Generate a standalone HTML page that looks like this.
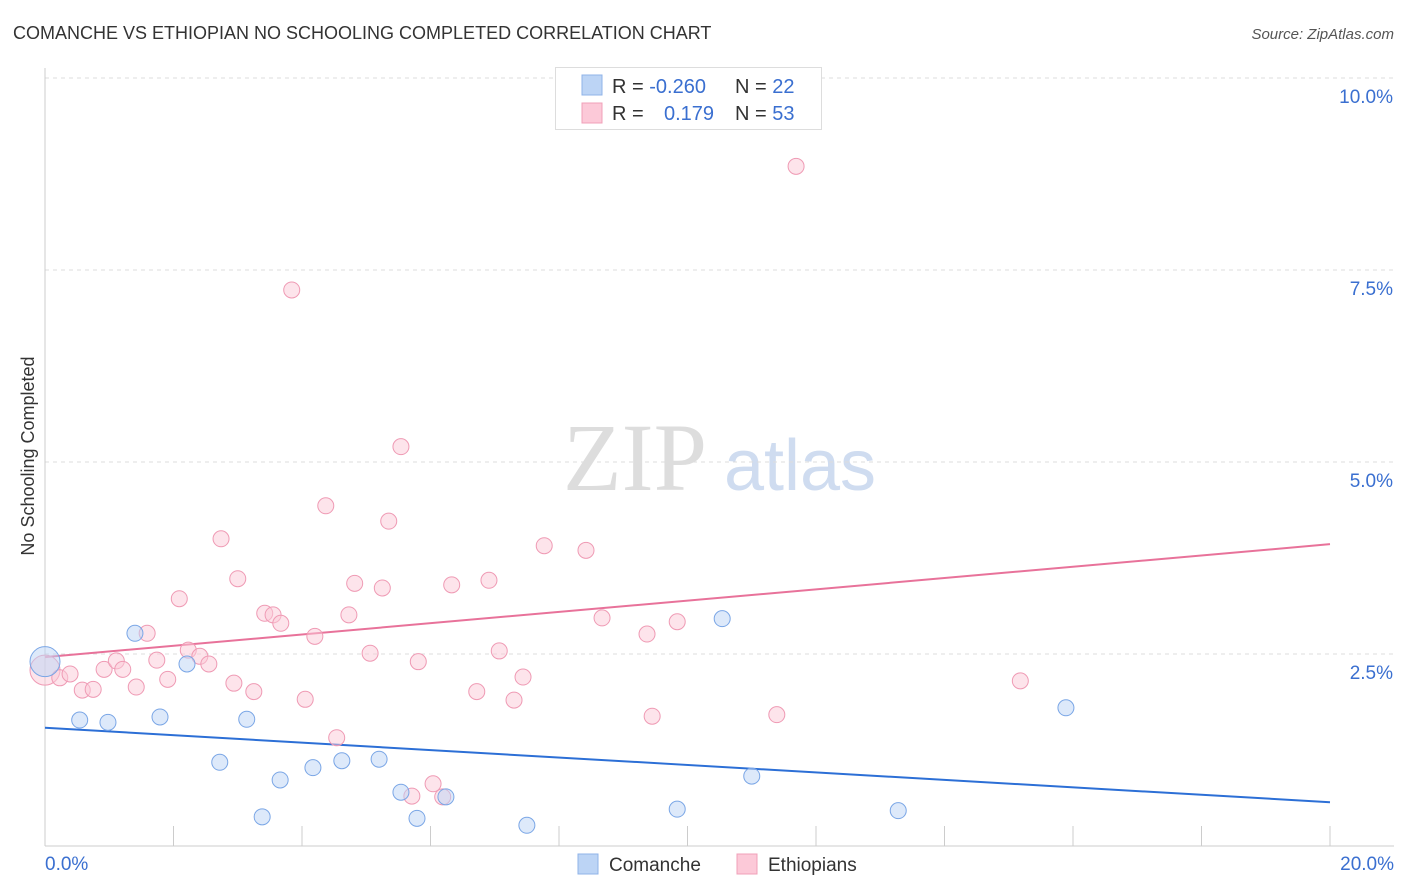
<!DOCTYPE html>
<html><head><meta charset="utf-8"><style>
body{margin:0;background:#fff;font-family:"Liberation Sans",sans-serif;}
svg{display:block}
</style></head><body>
<svg id="chart" width="1406" height="892">
<text x="13" y="39" font-size="18" fill="#333">COMANCHE VS ETHIOPIAN NO SCHOOLING COMPLETED CORRELATION CHART</text>
<text x="1394" y="39" font-size="15" fill="#555" font-style="italic" text-anchor="end">Source: ZipAtlas.com</text>
<text x="635" y="490" font-size="96" fill="#ddd" font-family="Liberation Serif" text-anchor="middle">ZIP</text>
<text x="800" y="490" font-size="72" fill="#cfdcf0" text-anchor="middle">atlas</text>
<text transform="translate(34,456) rotate(-90)" font-size="18" fill="#333" text-anchor="middle">No Schooling Completed</text>
<g id="grid"></g><g id="axes"></g><g id="trends"></g><g id="points"></g>
<g>
<rect x="555.5" y="67.5" width="266" height="62" fill="#fff" stroke="#ddd"/>
<rect x="582" y="75" width="20" height="20" fill="#bcd4f5" stroke="#8fb3e8"/>
<rect x="582" y="103" width="20" height="20" fill="#fcc9d8" stroke="#f0a0b8"/>
<text x="612" y="93" font-size="20" fill="#333">R = <tspan fill="#3a6fd0">-0.260</tspan><tspan x="735">N = </tspan><tspan fill="#3a6fd0">22</tspan></text>
<text x="612" y="120" font-size="20" fill="#333">R = <tspan x="664" fill="#3a6fd0">0.179</tspan><tspan x="735">N = </tspan><tspan fill="#3a6fd0">53</tspan></text>
</g>
<g>
<rect x="578" y="854" width="20" height="20" fill="#bcd4f5" stroke="#8fb3e8"/>
<text x="609" y="871" font-size="19" fill="#333">Comanche</text>
<rect x="737" y="854" width="20" height="20" fill="#fcc9d8" stroke="#f0a0b8"/>
<text x="768" y="871" font-size="19" fill="#333">Ethiopians</text>
</g>
</svg>
<script>
const yTicks=[2.5,5.0,7.5,10.0];
const xTickLabels=["0.0%","20.0%"];
const comancheX=[0.00,0.54,0.98,1.40,1.79,2.21,2.72,3.14,3.38,3.66,4.17,4.62,5.20,5.54,5.79,6.24,7.50,9.84,10.54,11.00,13.28,15.89];
const comancheY=[2.40,1.64,1.61,2.77,1.68,2.37,1.09,1.65,0.38,0.86,1.02,1.11,1.13,0.70,0.36,0.64,0.27,0.48,2.96,0.91,0.46,1.80];
const ethX=[0.00,0.23,0.39,0.58,0.75,0.92,1.11,1.21,1.42,1.59,1.74,1.91,2.09,2.23,2.41,2.55,2.74,2.94,3.00,3.25,3.42,3.55,3.67,3.84,4.05,4.20,4.37,4.54,4.73,4.82,5.06,5.25,5.35,5.54,5.71,5.81,6.04,6.19,6.33,6.72,6.91,7.07,7.30,7.44,7.77,8.42,8.67,9.37,9.45,9.84,11.39,11.69,15.18];
const ethY=[2.29,2.19,2.24,2.03,2.04,2.30,2.41,2.30,2.07,2.77,2.42,2.17,3.22,2.55,2.47,2.37,4.00,2.12,3.48,2.01,3.03,3.01,2.90,7.24,1.91,2.73,4.43,1.41,3.01,3.42,2.51,3.36,4.23,5.20,0.65,2.40,0.81,0.64,3.40,2.01,3.46,2.54,1.90,2.20,3.91,3.85,2.97,2.76,1.69,2.92,1.71,8.85,2.15];
const comancheTrend=[1.54,0.57];
const ethTrend=[2.46,3.93];
const NS="http://www.w3.org/2000/svg";
const xs=v=>45+v/20*1285, ys=v=>846-v*76.8;
function mk(p,t,a){const e=document.createElementNS(NS,t);for(const k in a)e.setAttribute(k,a[k]);document.getElementById(p).appendChild(e);return e;}
yTicks.forEach(t=>{
 const l=mk('grid','line',{x1:45,x2:1394,y1:ys(t),y2:ys(t),stroke:'#ddd','stroke-dasharray':'4,4'});
 
 
 const tx=mk('grid','text',{x:1393,y:ys(t)+25,'font-size':19,fill:'#3a6fd0','text-anchor':'end'});
 tx.textContent=t.toFixed(1)+'%';
 
 
});
mk('axes','line',{x1:45,x2:45,y1:68,y2:846,stroke:'#ccc'});
mk('axes','line',{x1:45,x2:1394,y1:846,y2:846,stroke:'#ccc'});
for(let i=0;i<=10;i++){const x=xs(i*2);mk('axes','line',{x1:x,x2:x,y1:826,y2:846,stroke:'#ccc'});}
xTickLabels.forEach((s,i)=>{const t=mk('axes','text',{x:i?1394:45,y:870,'font-size':19,fill:'#3a6fd0','text-anchor':i?'end':'start'});t.textContent=s;
 
 });
const tb=mk('trends','line',{x1:xs(0),y1:ys(comancheTrend[0]),x2:xs(20),y2:ys(comancheTrend[1]),stroke:'#2c6fd6','stroke-width':2});


const tp=mk('trends','line',{x1:xs(0),y1:ys(ethTrend[0]),x2:xs(20),y2:ys(ethTrend[1]),stroke:'#e8729a','stroke-width':2});


function pts(X,Y,fill,stroke,name){X.forEach((x,i)=>{const c=mk('points','circle',{cx:xs(x),cy:ys(Y[i]),r:i==0?15:8,fill:fill,'fill-opacity':0.5,stroke:stroke,'stroke-width':1});
 
 });}
pts(ethX,ethY,'#fcc9d8','#ef9ab4','ethiopians-point');
pts(comancheX,comancheY,'#bcd4f5','#7aa6e6','comanche-point');
</script>
</body></html>
